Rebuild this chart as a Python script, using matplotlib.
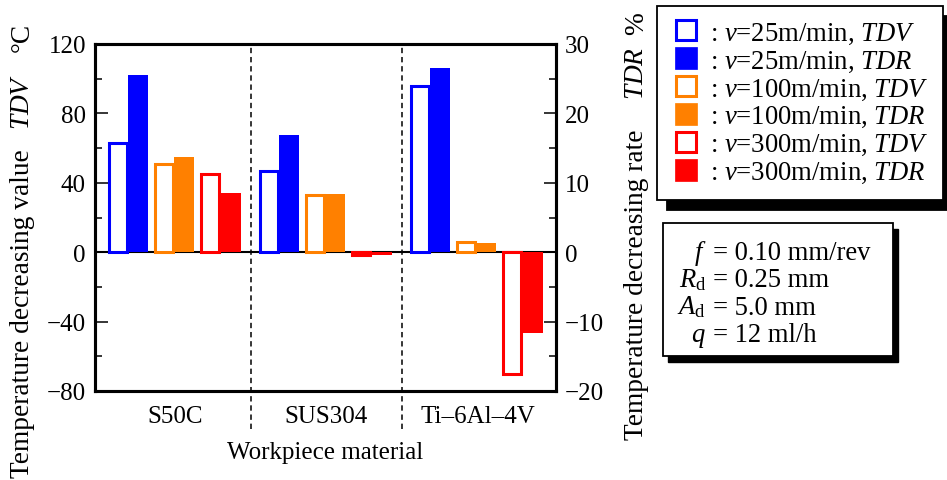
import matplotlib
matplotlib.use("Agg")
import matplotlib.pyplot as plt
from matplotlib.lines import Line2D
from matplotlib.patches import Rectangle
from matplotlib.ticker import MultipleLocator
import numpy as np

materials = ["S50C", "SUS304", "Ti–6Al–4V"]
speeds = ["25", "100", "300"]
colors = ["#0000ff", "#ff8000", "#ff0000"]

# temperature decreasing value TDV (deg C), one list per cutting speed
tdv_25 = [63, 47, 96]
tdv_100 = [51, 33, 6]
tdv_300 = [45, -1.5, -70]
# temperature decreasing rate TDR (%)
tdr_25 = [25.5, 16.9, 26.6]
tdr_100 = [13.7, 8.4, 1.3]
tdr_300 = [8.6, -0.4, -11.6]

params = [("$f$", "= 0.10 mm/rev"),
          ("$R_\\mathrm{d}$", "= 0.25 mm"),
          ("$A_\\mathrm{d}$", "= 5.0 mm"),
          ("$q$", "= 12 ml/h")]

plt.rcParams["font.family"] = "Liberation Serif"
plt.rcParams["mathtext.fontset"] = "custom"
plt.rcParams["mathtext.rm"] = "Liberation Serif"
plt.rcParams["mathtext.it"] = "Liberation Serif:italic"
plt.rcParams["mathtext.bf"] = "Liberation Serif:bold"
plt.rcParams["font.size"] = 18

W, H = 947, 481


def fx(px):
    return px / W


def fy(py):
    return 1 - py / H


fig = plt.figure(figsize=(W / 100, H / 100), dpi=100)
ax = fig.add_axes([fx(95), fy(392), fx(556) - fx(95), fy(45) - fy(392)])
ax2 = ax.twinx()

x = np.arange(len(materials))
tdv_all = [tdv_25, tdv_100, tdv_300]
tdr_all = [tdr_25, tdr_100, tdr_300]
pair_off = [-0.314, -0.007, 0.300]

ax.axhline(0, color="black", lw=1.5, zorder=0)
for i in range(3):
    ax.bar(x + pair_off[i] - 0.0695, tdv_all[i], width=0.119, facecolor="white",
           edgecolor=colors[i], linewidth=2.2, zorder=2)
    ax2.bar(x + pair_off[i] + 0.066, tdr_all[i], width=0.132, color=colors[i],
            linewidth=0, zorder=2)

for xd in [0.5, 1.5]:
    ax.axvline(xd, ymin=-0.11, ymax=1, color="black", lw=1.1, ls=(0, (3.5, 2.5)),
               clip_on=False, zorder=1)

ax.set_xlim(-0.533, 2.52)
ax.set_ylim(-80, 120)
ax2.set_ylim(-20, 30)
ax.yaxis.set_major_locator(MultipleLocator(40))
ax.yaxis.set_minor_locator(MultipleLocator(20))
ax2.yaxis.set_major_locator(MultipleLocator(10))
ax2.yaxis.set_minor_locator(MultipleLocator(5))
ax.set_xticks(x)
ax.set_xticklabels(materials)
ax.tick_params(axis="x", length=0, pad=10)
for a in (ax, ax2):
    a.tick_params(axis="y", which="major", direction="in", length=9, width=1.1, pad=6.5)
    a.tick_params(axis="y", which="minor", direction="in", length=5, width=1.1)
    for s in a.spines.values():
        s.set_linewidth(2.2)
ax2.tick_params(axis="y", which="both", right=True, left=False)
ax.tick_params(axis="y", which="both", right=False)

fig.text(fx(325), fy(453), "Workpiece material", ha="center", va="center")

# rotated axis titles, pieces placed along the baseline
ylab_kw = dict(rotation=90, rotation_mode="anchor", ha="center", va="baseline", fontsize=19.7)
for txt, yc in [("Temperature decreasing value", 314), ("$TDV$", 102), ("°C", 37)]:
    fig.text(fx(29), fy(yc), txt, **ylab_kw)
for txt, yc in [("Temperature decreasing rate", 285), ("$TDR$", 73), ("%", 24)]:
    fig.text(fx(643), fy(yc), txt, **ylab_kw)

handles = []
labels = []
for i, sp in enumerate(speeds):
    handles.append(Line2D([], [], ls="none", marker="s", markersize=14,
                          markerfacecolor="white", markeredgecolor=colors[i],
                          markeredgewidth=2.2))
    labels.append(": $v$=" + sp + "m/min, $TDV$")
    handles.append(Line2D([], [], ls="none", marker="s", markersize=16,
                          markerfacecolor=colors[i], markeredgecolor=colors[i],
                          markeredgewidth=0.5))
    labels.append(": $v$=" + sp + "m/min, $TDR$")

leg = fig.legend(handles, labels, loc="upper left", bbox_to_anchor=(fx(657), fy(7)),
                 borderaxespad=0, borderpad=0.55, handlelength=1.07, handletextpad=0.35,
                 labelspacing=0.1, fancybox=False, framealpha=1, edgecolor="black",
                 fontsize=19.2,
                 shadow={"color": "black", "alpha": 1, "ox": 7, "oy": -7})
leg.get_frame().set_linewidth(1.3)

# parameter box
box_l, box_t, box_r, box_b = 663, 224, 893, 357
fig.add_artist(Rectangle((fx(box_l + 5), fy(box_b + 6)), fx(box_r) - fx(box_l),
                         fy(box_t) - fy(box_b), transform=fig.transFigure,
                         facecolor="black", edgecolor="black"))
fig.add_artist(Rectangle((fx(box_l), fy(box_b)), fx(box_r) - fx(box_l),
                         fy(box_t) - fy(box_b), transform=fig.transFigure,
                         facecolor="white", edgecolor="black", linewidth=1.3))
for k, (name, val) in enumerate(params):
    yb = 260 + 27.3 * k
    fig.text(fx(706), fy(yb), name, ha="right", va="baseline", fontsize=19.2)
    fig.text(fx(713), fy(yb), val, ha="left", va="baseline", fontsize=19.2)

fig.savefig("out.png", dpi=100)
